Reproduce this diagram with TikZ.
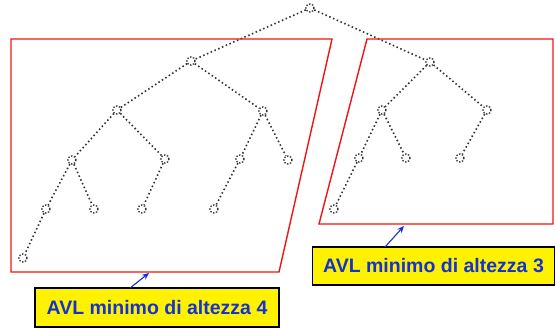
\documentclass[tikz,border=0pt]{standalone}
\usepackage{fontspec}
\setmainfont{Liberation Sans}
\usetikzlibrary{arrows.meta}
\definecolor{labelblue}{RGB}{20,50,210}
\definecolor{frame}{RGB}{240,20,20}
\definecolor{dotgray}{RGB}{50,50,50}
\tikzset{
  tn/.style={circle, draw=dotgray, line width=1.4pt, dash pattern=on 1.3pt off 1.6pt,
             minimum size=8pt, inner sep=0pt},
  te/.style={draw=dotgray, line width=1.6pt, dash pattern=on 1.5pt off 2.6pt},
  region/.style={draw=frame, line width=1.4pt},
  lab/.style={draw=black, line width=1.5pt, fill=yellow, text=labelblue,
              font=\bfseries\fontsize{19.5}{22}\selectfont, inner sep=0pt},
  pointer/.style={draw=labelblue, line width=1.1pt, -{Stealth[length=7pt,width=6pt]}}
}
\begin{document}
\begin{tikzpicture}[x=1pt,y=-1pt]
\useasboundingbox (0,0) rectangle (556,328);
\fill[white] (0,0) rectangle (556,328);

% tree nodes
\node[tn] (r) at (310,8) {};
\node[tn] (a) at (191,61) {};
\node[tn] (b) at (117,110) {};
\node[tn] (c) at (263,111) {};
\node[tn] (d) at (72,160) {};
\node[tn] (e) at (165,159) {};
\node[tn] (f) at (240,159) {};
\node[tn] (g) at (288,160) {};
\node[tn] (h) at (46,209) {};
\node[tn] (i) at (94,209) {};
\node[tn] (j) at (142,209) {};
\node[tn] (k) at (214,209) {};
\node[tn] (l) at (23,258) {};

\node[tn] (s) at (430,62) {};
\node[tn] (t) at (382,110) {};
\node[tn] (u) at (487,110) {};
\node[tn] (v) at (359,158) {};
\node[tn] (w) at (406,158) {};
\node[tn] (x) at (460,158) {};
\node[tn] (y) at (334,209) {};

% tree edges
\foreach \p/\q in {r/a, r/s, a/b, a/c, b/d, b/e, c/f, c/g, d/h, d/i, e/j, f/k, h/l,
                   s/t, s/u, t/v, t/w, u/x, v/y}
  \draw[te] (\p) -- (\q);

% subtree frames
\draw[region] (11,39) -- (332,39) -- (279,272) -- (11,272) -- cycle;
\draw[region] (367,39) -- (553,39) -- (553,224) -- (319,224) -- cycle;

% captions
\node[lab, minimum width=244pt, minimum height=39pt] (l4) at (157,307.5) {AVL minimo di altezza 4};
\node[lab, minimum width=242pt, minimum height=38pt] (l3) at (433.5,266) {AVL minimo di altezza 3};

\coordinate (p4s) at (130,288);
\coordinate (p4e) at (149,273);
\coordinate (p3s) at (385,247);
\coordinate (p3e) at (404,226);
\draw[pointer] (p4s) -- (p4e);
\draw[pointer] (p3s) -- (p3e);
\end{tikzpicture}
\end{document}
